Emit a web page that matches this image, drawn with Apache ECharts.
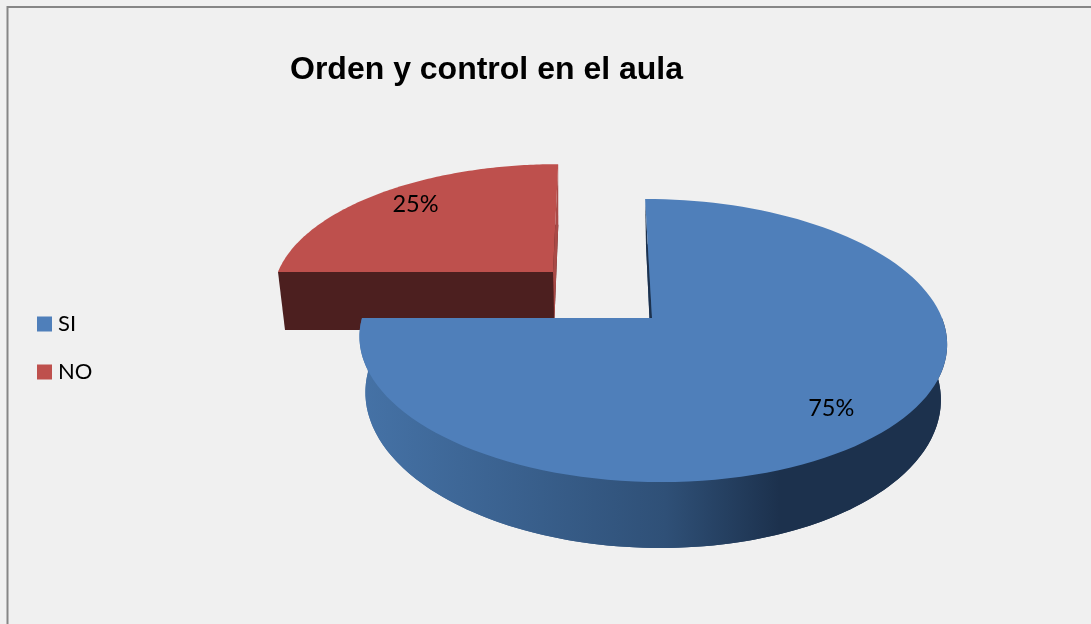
<!DOCTYPE html>
<html><head><meta charset="utf-8">
<style>html,body{margin:0;padding:0;background:#f0f0f0;overflow:hidden}#c{width:1091px;height:624px}</style>
<script src="https://cdn.jsdelivr.net/npm/echarts@6/dist/echarts.min.js"></script>
</head><body><div id="c"></div>
<script>
const titleText = 'Orden y control en el aula';
const categories = ['SI', 'NO'];
const values = [75, 25];
const total = values.reduce((a, b) => a + b, 0);

// Pie geometry (perspective disc), per slice because of the explosion
const k = 0.159;
const geom = {
  SI: { top: {cx: 652, cy: 318, b: 290, a: 138, d: -8}, bot: {cx: 652, cy: 372, b: 284, a: 148, d: -7}, label: {f: 0.8, dx: -6, dy: 5}, z: 3 },
  NO: { top: {cx: 553, cy: 272, b: 275, a: 125, d: 6},  bot: {cx: 554, cy: 330, b: 269, a: 122, d: 5},  label: {f: 0.75, dx: -6, dy: -6}, z: 2 }
};
const colors = {
  SI: { face: '#4f7fba', inner: '#1c314d', outer: [[0, '#4572a6'], [0.52, '#2f5077'], [0.715, '#1c314d'], [1, '#1c314d']], front: null },
  NO: { face: '#be504d', inner: '#a94a47', outer: [[0, '#4c1f1f'], [1, '#4c1f1f']], front: '#4c1f1f' }
};

function proj(g, theta, f) {
  const u = Math.sin(theta) * f, v = Math.cos(theta) * f, s = 1 / (1 + k * v);
  return [g.cx + (g.b * u + g.d * v) * s, g.cy - g.a * v * s];
}
function arc(g, t0, t1) {
  const pts = [], n = 120;
  for (let i = 0; i <= n; i++) pts.push(proj(g, t0 + (t1 - t0) * i / n, 1));
  return pts;
}
function renderSlice(name, start) {
  return function (params, api) {
    const val = api.value(0);
    const t0 = start / total * 2 * Math.PI, t1 = (start + val) / total * 2 * Math.PI;
    const G = geom[name], C = colors[name], top = G.top, bot = G.bot;
    const apexT = [top.cx, top.cy], apexB = [bot.cx, bot.cy];
    const grad = new echarts.graphic.LinearGradient(362, 0, 946, 0,
      C.outer.map(s => ({offset: s[0], color: s[1]})), true);
    const poly = (pts, fill) => ({type: 'polygon', shape: {points: pts}, style: {fill: fill}});
    const mid = (t0 + t1) / 2, lp = proj(top, mid, G.label.f);
    const topArc = arc(top, t0, t1), botArc = arc(bot, t0, t1);
    const visA = Math.max(t0, Math.PI / 2), visB = Math.min(t1, 3 * Math.PI / 2);
    const children = [];
    children.push(poly([apexB].concat(botArc), grad));
    if (visB > visA) children.push(poly(arc(top, visA, visB).concat(arc(bot, visA, visB).reverse()), grad));
    // wall along the back radius of the slice
    const backT = name === 'NO' ? t1 : t0;
    children.push(poly([proj(top, backT, 1), apexT, apexB, proj(bot, backT, 1)], C.inner));
    // wall along the left radius
    children.push(poly([proj(top, 1.5 * Math.PI, 1), apexT, apexB, proj(bot, 1.5 * Math.PI, 1)], C.front || grad));
    children.push(poly([apexT].concat(topArc), C.face));
    children.push({type: 'text', style: {
      text: Math.round(val / total * 100) + '%', x: lp[0] + G.label.dx, y: lp[1] + G.label.dy,
      fill: '#000', font: '23.5px Lato', align: 'center', verticalAlign: 'middle'}});
    return {type: 'group', children};
  };
}

let acc = 0;
const series = categories.map((name, i) => {
  const s = {
    type: 'custom', name, coordinateSystem: 'none', z: geom[name].z, silent: true,
    itemStyle: {color: colors[name].face},
    data: [[values[i]]],
    encode: {value: 0},
    renderItem: renderSlice(name, acc)
  };
  acc += values[i];
  return s;
});

const chart = echarts.init(document.getElementById('c'), null, {renderer: 'canvas'});
chart.setOption({
  animation: false,
  backgroundColor: '#f0f0f0',
  title: {text: titleText, left: 285, top: 49,
    textStyle: {fontFamily: 'Liberation Sans', fontWeight: 'bold', fontSize: 32, color: '#000'}},
  legend: {data: categories, orient: 'vertical', left: 32, top: 308, icon: 'rect', itemWidth: 15, itemHeight: 15,
    itemGap: 26, selectedMode: false,
    textStyle: {fontFamily: 'Lato', fontSize: 22, color: '#000', padding: [0, 0, 0, 1]}},
  graphic: [{type: 'rect', z: -1, silent: true,
    shape: {x: 7.5, y: 7, width: 1300, height: 800},
    style: {fill: 'none', stroke: '#868686', lineWidth: 2}}],
  series
});
</script></body></html>
